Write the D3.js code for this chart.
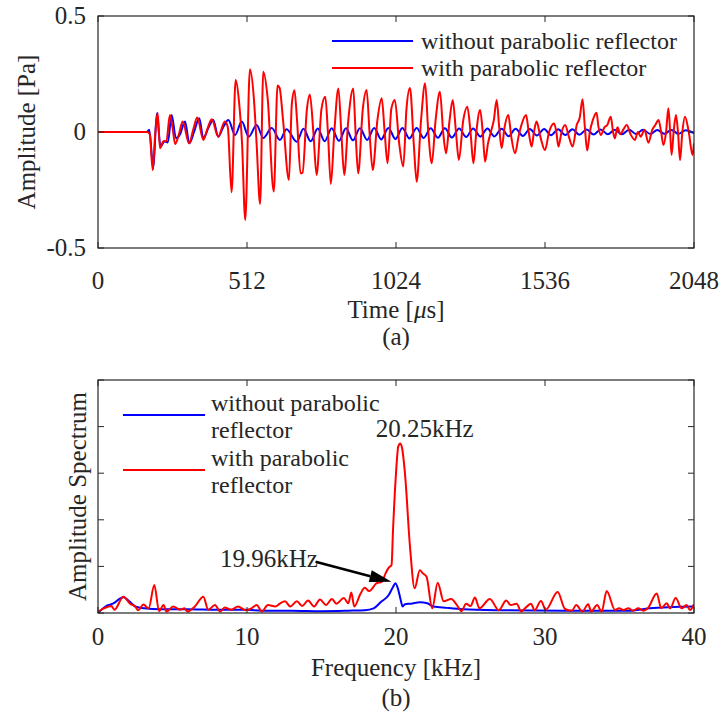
<!DOCTYPE html>
<html><head><meta charset="utf-8">
<script src="https://cdn.jsdelivr.net/npm/d3@7"></script>
<style>body{margin:0;background:#fff}svg{display:block}text{font-family:"Liberation Serif","Times New Roman",serif;fill:#262626}</style>
</head><body><svg id="c" width="723" height="717"></svg>
<script>
// ---------- data: (a) time signal ----------
const timeTicks = [0, 512, 1024, 1536, 2048];
const ampTicks = [-0.5, 0, 0.5];
const ampTickLabels = ["-0.5", "0", "0.5"];
const seriesNames = ["without parabolic reflector", "with parabolic reflector"];
const blueTime = [[0,0],[168,0],[176,0.01],[190,-0.157],[202,0.08],[215,-0.063],[228,-0.04],[240,-0.045],[253,0.073],[268,-0.027],[282,-0.01],[299,0.045],[314,-0.049],[330,0.0],[348,0.059],[362,-0.027],[380,0.02],[396,0.052],[413,-0.02],[430,0.02],[448,0.052],[471,-0.013],[494,0.045],[518,-0.02],[545,0.03],[568,-0.026],[597,0.017],[625,-0.034],[648,0.012],[683,-0.042],[706,0.014],[731,-0.04],[755,0.015],[779,-0.04],[803,0.016],[828,-0.038],[852,0.016],[876,-0.036],[900,0.016],[925,-0.034],[949,0.017],[973,-0.032],[998,0.017],[1022,-0.03],[1046,0.017],[1070,-0.028],[1095,0.017],[1119,-0.026],[1143,0.016],[1168,-0.025],[1192,0.016],[1216,-0.024],[1241,0.015],[1265,-0.022],[1289,0.015],[1314,-0.02],[1338,0.015],[1362,-0.019],[1387,0.014],[1411,-0.018],[1435,0.014],[1460,-0.017],[1484,0.013],[1508,-0.015],[1533,0.013],[1557,-0.014],[1581,0.012],[1606,-0.013],[1630,0.012],[1654,-0.012],[1679,0.011],[1703,-0.011],[1727,0.011],[1752,-0.01],[1776,0.01],[1800,-0.01],[1825,0.01],[1849,-0.009],[1873,0.01],[1898,-0.009],[1922,0.009],[1946,-0.008],[1970,0.009],[1995,-0.008],[2019,0.008],[2048,-0.005]];
const redTime = [[0,0],[170,0],[178,-0.01],[188,-0.164],[196,-0.02],[205,0.083],[213,-0.07],[225,-0.04],[235,-0.04],[247,0.073],[256,0.02],[265,-0.052],[278,-0.01],[291,0.045],[313,-0.049],[327,0.01],[341,0.063],[362,-0.034],[375,0.01],[391,0.055],[413,-0.02],[436,0.045],[446,0.02],[459,-0.26],[473,0.224],[485,0.125],[495,-0.05],[506,-0.379],[522,0.27],[536,0.138],[545,-0.05],[557,-0.31],[568,0.26],[583,0.145],[604,-0.257],[617,0.2],[624,0.19],[636,0.05],[656,-0.207],[666,0.12],[675,0.18],[684,0.05],[696,-0.178],[703,-0.175],[718,0.1],[728,0.162],[740,0.0],[751,-0.185],[768,0.1],[781,0.152],[790,0.0],[800,-0.224],[812,0.0],[826,0.188],[836,0.0],[846,-0.185],[860,0.05],[877,0.188],[885,0.0],[894,-0.178],[910,0.1],[923,0.181],[933,0.0],[944,-0.164],[960,0.05],[975,0.145],[985,0.0],[995,-0.135],[1008,0.1],[1020,0.138],[1035,-0.05],[1049,-0.149],[1060,0.1],[1072,0.19],[1085,-0.05],[1095,-0.214],[1110,0.05],[1124,0.21],[1135,0.0],[1147,-0.135],[1160,0.05],[1175,0.174],[1186,0.0],[1196,-0.092],[1208,0.05],[1219,0.138],[1230,0.0],[1240,-0.121],[1255,0.05],[1269,0.109],[1280,0.0],[1290,-0.135],[1300,0.0],[1313,0.095],[1322,0.0],[1330,-0.128],[1340,-0.05],[1350,0.0],[1360,0.05],[1370,0.138],[1378,0.03],[1387,-0.07],[1397,0.02],[1410,0.073],[1420,-0.02],[1433,-0.092],[1445,-0.02],[1455,0.03],[1471,0.073],[1480,0.0],[1490,-0.063],[1498,0.0],[1507,0.045],[1520,-0.02],[1536,-0.078],[1550,0.0],[1567,0.037],[1575,0.0],[1582,-0.063],[1593,0.0],[1605,0.03],[1618,-0.02],[1631,-0.063],[1645,0.03],[1655,0.06],[1665,0.141],[1673,0.02],[1681,-0.08],[1690,0.0],[1700,0.05],[1713,0.083],[1720,0.02],[1728,-0.013],[1740,0.02],[1750,0.03],[1762,0.066],[1770,0.0],[1776,-0.027],[1785,0.02],[1795,-0.01],[1805,0.01],[1817,0.03],[1830,-0.01],[1845,-0.034],[1855,0.0],[1865,-0.02],[1878,0.01],[1891,-0.046],[1905,0.01],[1915,0.03],[1926,0.052],[1935,0.0],[1943,-0.056],[1952,0.0],[1960,0.102],[1966,0.0],[1971,-0.099],[1978,0.0],[1986,0.073],[1993,0.0],[2000,-0.121],[2008,0.0],[2017,0.066],[2030,0.0],[2043,-0.099],[2048,-0.049]];

// ---------- data: (b) spectrum ----------
const freqTicks = [0, 10, 20, 30, 40];
const specTicks = [0, 1, 2, 3, 4, 5];
const blueSpec = [[0,0.0],[0.5,0.14],[1.0,0.2],[1.7,0.34],[2.1,0.25],[2.5,0.14],[3.1,0.1],[4.2,0.08],[6,0.08],[8,0.07],[10,0.07],[11,0.05],[13,0.05],[15,0.04],[16.8,0.05],[17.9,0.06],[18.5,0.1],[19.0,0.24],[19.5,0.38],[19.8,0.56],[19.96,0.64],[20.15,0.5],[20.3,0.3],[20.45,0.14],[20.6,0.19],[21.0,0.2],[21.6,0.23],[22.1,0.21],[22.5,0.14],[23.4,0.11],[24.5,0.08],[26.7,0.06],[31.2,0.05],[35.6,0.05],[37,0.1],[40,0.14]];
const redSpec = [[0,0.03],[0.4,0.1],[0.9,0.15],[1.1,0.07],[1.7,0.35],[2.15,0.2],[2.5,0.14],[2.7,0.06],[3.05,0.18],[3.4,0.1],[3.78,0.6],[4.1,0.04],[4.4,0.17],[4.6,0.03],[5.05,0.14],[5.5,0.07],[5.8,0.1],[6.0,0.03],[6.5,0.14],[7.07,0.35],[7.4,0.07],[7.85,0.17],[8.2,0.03],[8.5,0.12],[8.95,0.07],[9.4,0.14],[9.9,0.06],[10.3,0.1],[10.65,0.17],[11.0,0.03],[11.4,0.17],[11.9,0.14],[12.2,0.2],[12.55,0.25],[12.9,0.14],[13.35,0.25],[13.7,0.15],[14.1,0.27],[14.5,0.14],[14.9,0.29],[15.3,0.17],[15.7,0.3],[16.0,0.2],[16.5,0.32],[16.8,0.21],[17.0,0.44],[17.2,0.14],[17.6,0.4],[17.9,0.54],[18.2,0.47],[18.7,0.64],[19.05,0.67],[19.3,0.85],[19.5,0.97],[19.7,1.03],[19.8,1.78],[20.0,3.0],[20.15,3.57],[20.28,3.64],[20.4,3.55],[20.6,3.0],[20.94,1.42],[21.25,0.53],[21.6,0.92],[21.8,0.85],[22.05,0.78],[22.43,0.1],[22.8,0.65],[23.2,0.25],[23.7,0.3],[24.07,0.18],[24.4,0.04],[24.7,0.2],[25.0,0.15],[25.3,0.33],[25.6,0.1],[26.3,0.3],[26.9,0.06],[27.4,0.27],[27.7,0.17],[28.1,0.2],[28.4,0.03],[28.66,0.1],[29.06,0.2],[29.3,0.06],[29.73,0.26],[30.05,0.07],[30.85,0.45],[31.34,0.086],[31.8,0.05],[32.1,0.17],[32.5,0.03],[32.9,0.19],[33.1,0.03],[33.5,0.17],[33.8,0.03],[34.14,0.47],[34.7,0.064],[34.97,0.1],[35.26,0.064],[35.6,0.1],[35.9,0.05],[36.26,0.1],[36.6,0.05],[36.9,0.1],[37.5,0.42],[37.8,0.1],[38.17,0.21],[38.4,0.1],[38.77,0.32],[39.17,0.1],[39.5,0.17],[39.73,0.064],[40,0.19]];
const peakRed = {f: 20.25, v: 3.64, label: "20.25kHz"};
const peakBlue = {f: 19.96, v: 0.64, label: "19.96kHz"};

// ---------- layout ----------
const svg = d3.select("#c");
const L = 98, R = 694;
const topA = {t: 16, b: 248}, topB = {t: 380, b: 613};
const axisCol = "#262626";
const FS = 25;

const xA = d3.scaleLinear().domain([0, 2048]).range([L, R]);
const yA = d3.scaleLinear().domain([-0.5, 0.5]).range([topA.b, topA.t]);
const xB = d3.scaleLinear().domain([0, 40]).range([L, R]);
const yB = d3.scaleLinear().domain([0, 5]).range([topB.b, topB.t]);

function frame(x, y, top, bottom, xt, yt) {
  const g = svg.append("g");
  const tl = 6;
  xt.forEach(v => {
    g.append("line").attr("x1", x(v)).attr("x2", x(v)).attr("y1", bottom).attr("y2", bottom - tl).attr("stroke", axisCol);
    g.append("line").attr("x1", x(v)).attr("x2", x(v)).attr("y1", top).attr("y2", top + tl).attr("stroke", axisCol);
  });
  yt.forEach(v => {
    g.append("line").attr("x1", L).attr("x2", L + tl).attr("y1", y(v)).attr("y2", y(v)).attr("stroke", axisCol);
    g.append("line").attr("x1", R).attr("x2", R - tl).attr("y1", y(v)).attr("y2", y(v)).attr("stroke", axisCol);
  });
  g.append("rect").attr("x", L).attr("y", top).attr("width", R - L).attr("height", bottom - top)
    .attr("fill", "none").attr("stroke", axisCol).attr("stroke-width", 1.2);
}

function line(x, y, data, col, clipId) {
  svg.append("path").datum(data)
    .attr("d", d3.line().x(d => x(d[0])).y(d => y(d[1])).curve(d3.curveMonotoneX))
    .attr("fill", "none").attr("stroke", col).attr("stroke-width", 2).attr("stroke-linejoin", "round")
    .attr("clip-path", clipId ? `url(#${clipId})` : null);
}

const defs = svg.append("defs");
defs.append("clipPath").attr("id", "ca").append("rect").attr("x", L).attr("y", topA.t).attr("width", R - L).attr("height", topA.b - topA.t);
defs.append("clipPath").attr("id", "cb").append("rect").attr("x", L).attr("y", topB.t).attr("width", R - L).attr("height", topB.b - topB.t);

// ---------- (a) ----------
line(xA, yA, blueTime, "#0000ff", "ca");
line(xA, yA, redTime, "#ff0000", "ca");
frame(xA, yA, topA.t, topA.b, timeTicks, ampTicks);

timeTicks.forEach(v => svg.append("text").attr("x", xA(v)).attr("y", topA.b + 41).attr("text-anchor", "middle").attr("font-size", FS).text(v));
ampTicks.forEach((v, i) => svg.append("text").attr("x", L - 12).attr("y", yA(v) + 8).attr("text-anchor", "end").attr("font-size", FS).text(ampTickLabels[i]));
const tl = svg.append("text").attr("x", (L + R) / 2).attr("y", 318).attr("text-anchor", "middle").attr("font-size", FS);
tl.append("tspan").text("Time [");
tl.append("tspan").attr("font-style", "italic").text("μ");
tl.append("tspan").text("s]");
svg.append("text").attr("x", (L + R) / 2).attr("y", 345).attr("text-anchor", "middle").attr("font-size", FS).text("(a)");
svg.append("text").attr("transform", `translate(35,${(topA.t + topA.b) / 2}) rotate(-90)`).attr("text-anchor", "middle").attr("font-size", FS).text("Amplitude [Pa]");

// legend (a)
[["#0000ff", 41], ["#ff0000", 68]].forEach((d, i) => {
  svg.append("line").attr("x1", 332).attr("x2", 413).attr("y1", d[1]).attr("y2", d[1]).attr("stroke", d[0]).attr("stroke-width", 2);
  svg.append("text").attr("x", 421).attr("y", d[1] + 8).attr("font-size", 24).text(seriesNames[i]);
});

// ---------- (b) ----------
line(xB, yB, blueSpec, "#0000ff", "cb");
line(xB, yB, redSpec, "#ff0000", "cb");
frame(xB, yB, topB.t, topB.b, freqTicks, specTicks);

freqTicks.forEach(v => svg.append("text").attr("x", xB(v)).attr("y", topB.b + 32).attr("text-anchor", "middle").attr("font-size", FS).text(v));
svg.append("text").attr("x", (L + R) / 2).attr("y", 676).attr("text-anchor", "middle").attr("font-size", FS).text("Frequency [kHz]");
svg.append("text").attr("x", (L + R) / 2).attr("y", 706).attr("text-anchor", "middle").attr("font-size", FS).text("(b)");
svg.append("text").attr("transform", `translate(86,${(topB.t + topB.b) / 2}) rotate(-90)`).attr("text-anchor", "middle").attr("font-size", FS).text("Amplitude Spectrum");

// legend (b)
const legB = [["#0000ff", 415, ["without parabolic", "reflector"]], ["#ff0000", 470, ["with parabolic", "reflector"]]];
legB.forEach(d => {
  svg.append("line").attr("x1", 123).attr("x2", 205).attr("y1", d[1]).attr("y2", d[1]).attr("stroke", d[0]).attr("stroke-width", 2);
  d[2].forEach((t, j) => svg.append("text").attr("x", 211).attr("y", d[1] - 4 + j * 27).attr("font-size", 24).text(t));
});

// annotations
svg.append("text").attr("x", xB(peakRed.f) + 25).attr("y", 437).attr("text-anchor", "middle").attr("font-size", FS).text(peakRed.label);
svg.append("text").attr("x", 220).attr("y", 567).attr("font-size", FS).text(peakBlue.label);
// arrow from label to blue peak
const tail = [xB(14.6), yB(1.1)], tip = [xB(19.7), yB(0.67)];
const ang = Math.atan2(tip[1] - tail[1], tip[0] - tail[0]);
const hl = 22, hw = 6;
const base = [tip[0] - hl * Math.cos(ang), tip[1] - hl * Math.sin(ang)];
svg.append("line").attr("x1", tail[0]).attr("y1", tail[1]).attr("x2", base[0]).attr("y2", base[1]).attr("stroke", "#000").attr("stroke-width", 2.5);
svg.append("path").attr("d", `M${tip[0]},${tip[1]}L${base[0] - hw * Math.sin(ang)},${base[1] + hw * Math.cos(ang)}L${base[0] + hw * Math.sin(ang)},${base[1] - hw * Math.cos(ang)}Z`).attr("fill", "#000");
</script></body></html>
